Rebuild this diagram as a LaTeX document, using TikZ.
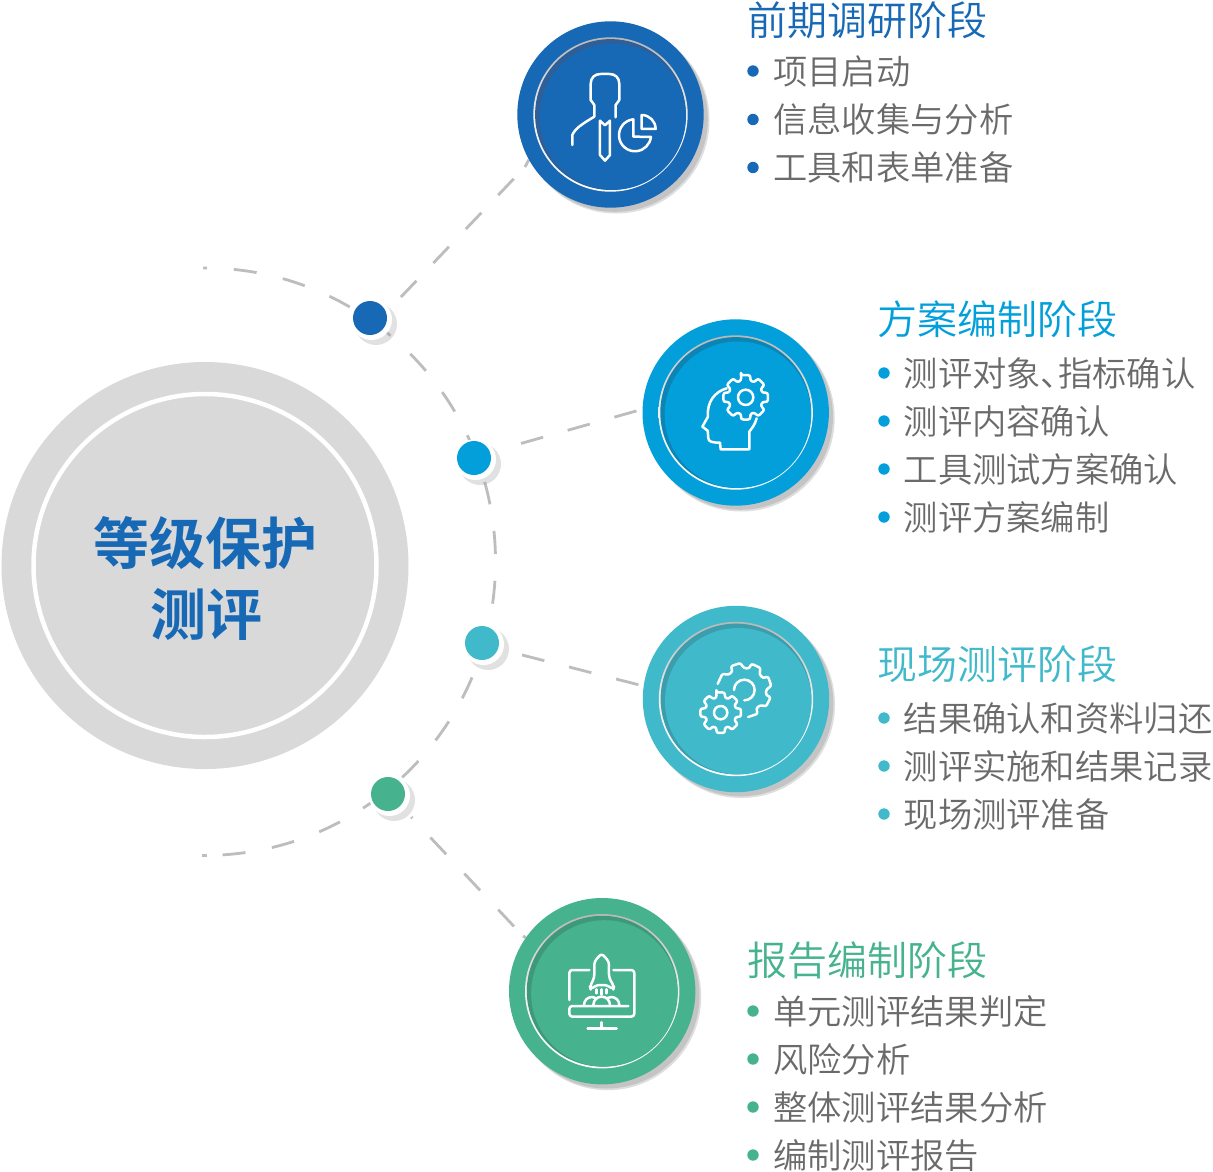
\documentclass[tikz,border=0pt]{standalone}
\usepackage{fontspec}
\newfontfamily\cjk{Noto Sans CJK SC DemiLight}
\newfontfamily\cjkbold{Noto Sans CJK SC Bold}
\pgfdeclarelayer{links}
\pgfsetlayers{links,main}
\definecolor{cblue}{HTML}{1769B5}
\definecolor{ccyan}{HTML}{039FDB}
\definecolor{cteal}{HTML}{40B9CB}
\definecolor{cgreen}{HTML}{46B38E}
\definecolor{dblue}{HTML}{2F5F96}
\definecolor{dcyan}{HTML}{0C85B5}
\definecolor{dteal}{HTML}{3C9EAC}
\definecolor{dgreen}{HTML}{3E997A}
\definecolor{txtgrey}{HTML}{6A6A6A}
\definecolor{dashgrey}{HTML}{BDBDBD}
\tikzset{
  dashline/.style={draw=dashgrey,line width=2.8pt},
  stagedisc/.style={circle,inner sep=0pt,minimum size=186.4pt,fill=#1},
  dotnode/.style={circle,inner sep=0pt,minimum size=34pt,fill=#1},
  headtext/.style={anchor=west,inner sep=0pt,text height=33pt,text depth=7pt,font=\cjk\fontsize{40}{40}\selectfont,text=#1},
  itemtext/.style={anchor=west,inner sep=0pt,text height=28.5pt,text depth=5.5pt,font=\cjk\fontsize{34.3}{34.3}\selectfont,text=txtgrey},
  bulletdot/.style={circle,inner sep=0pt,minimum size=11.4pt,fill=#1},
  iconline/.style={draw=white,line width=2.5pt,line cap=round,line join=round},
  titletext/.style={inner sep=0pt,text=cblue,font=\cjkbold\fontsize{56}{56}\selectfont}
}
\newcommand\stagecircle[5]{% name,x,y,colour,dark colour
  \begin{scope}[shift={(#2,#3)}]
    \fill[black!13] (5.5,5.5) circle[radius=93.5];
    \fill[black!23] (4.5,4.5) circle[radius=92.8];
  \end{scope}
  \node[stagedisc=#4] (#1) at (#2,#3) {};
  \begin{scope}[shift={(#2,#3)}]
    \shade[shading angle=45,top color=black!28,bottom color=white,middle color=black!6] (0,0) circle[radius=77.2];
    \fill[#5] (0,0) circle[radius=75.4];
    \fill[#4] (2.2,2.2) circle[radius=73.2];
  \end{scope}
}
\newcommand\pathdot[4]{% name,x,y,colour
  \begin{scope}[shift={(#2,#3)}]
    \fill[black!38,opacity=.3] (6,6) circle[radius=21];
    \fill[white] (1.5,1.5) circle[radius=20.5];
  \end{scope}
  \node[dotnode=#4] (#1) at (#2,#3) {};
}
\newcommand\stageitem[6]{% name,bullet x,text x,y,colour,text
  \node[bulletdot=#5] (#1b) at (#2,#4) {};
  \node[itemtext] (#1) at (#3,#4+1.5) {#6};
}
\newcommand\gearfull[3]{% outer,root,phase
  \draw[iconline,rounded corners=2.2pt] (#3-12:#1) \foreach \k in {0,45,...,315} {
     -- ({#3+\k-12}:#1) -- ({#3+\k+12}:#1) -- ({#3+\k+15}:#2) -- ({#3+\k+30}:#2)
  } -- cycle;
}
\begin{document}
\begin{tikzpicture}[x=1pt,y=-1pt]
\useasboundingbox (0,0) rectangle (1213,1171);
\begin{pgfonlayer}{links}
\fill[white] (0,0) rectangle (1213,1171);
\end{pgfonlayer}

% central circle
\node[circle,inner sep=0pt,minimum size=407pt,fill=black!15] (core) at (205,565.5) {};
\draw[white,line width=4.5pt] (core.center) circle[radius=171.5];
\node[titletext] (coreA) at (205.5,543) {等级保护};
\node[titletext] (coreB) at (206,614) {测评};

% waypoints
\pathdot{dotA}{370}{318}{cblue}
\pathdot{dotB}{474}{458}{ccyan}
\pathdot{dotC}{482}{643}{cteal}
\pathdot{dotD}{388}{794}{cgreen}

% stages
\stagecircle{stageA}{610.5}{114.5}{cblue}{dblue}
\stagecircle{stageB}{735.7}{412.5}{ccyan}{dcyan}
\stagecircle{stageC}{736}{699}{cteal}{dteal}
\stagecircle{stageD}{602.2}{991.2}{cgreen}{dgreen}

% connectors, under everything else
\coordinate (arctop) at (203,268);
\coordinate (arcend) at (207,855.5);
\coordinate (arcendb) at (202,855.5);
\coordinate (stubAa) at (525,167);
\coordinate (stubDa) at (523,936);
\begin{pgfonlayer}{links}
\draw[dashline,dash pattern=on 23pt off 26.9pt,dash phase=19pt] (arctop) arc[start angle=-90.4,end angle=88,x radius=290.5,y radius=293.7];
\draw[dashline] (arcend) -- (arcendb);
\draw[dashline,dash pattern=on 22.5pt off 24.5pt,dash phase=25.8pt] (dotA.19.5) -- (stubAa);
\draw[dashline] (stubAa) -- (stageA.209.3);
\draw[dashline,dash pattern=on 23pt off 25.5pt,dash phase=24.5pt,shorten <=8pt] (dotB.20) -- (stageB.178.8);
\draw[dashline,dash pattern=on 23pt off 25.5pt,dash phase=23.8pt] (dotC.-20.5) -- (stageC.172.6);
\draw[dashline,dash pattern=on 23pt off 26.5pt,dash phase=21.4pt,shorten <=15.5pt] (dotD.-43.8) -- (stubDa);
\draw[dashline] (stubDa) -- (stageD.145.4);
\end{pgfonlayer}

% icon 1
\begin{scope}[shift={(500,0)},x=0.3333pt,y=-0.3333pt]
  \draw[iconline] (217,435) -- (217,405) .. controls (225,385) and (250,370) .. (283,350) -- (283,315) -- (272,300) -- (272,252) .. controls (272,232) and (285,222) .. (302,222) -- (328,222) .. controls (345,222) and (358,232) .. (358,252) -- (358,300) -- (347,315) -- (347,352);
  \draw[iconline] (300,362) -- (300,465) -- (315,482) -- (330,465) -- (330,362) -- (315,376) -- cycle;
  \draw[iconline] (400,358) arc[start angle=-96,end angle=-354,radius=48] -- (400,410) -- cycle;
  \draw[iconline] (425,345) arc[start angle=-90,end angle=0,radius=42] -- (425,387) -- cycle;
\end{scope}
% icon 2
\begin{scope}[shift={(630,310)},x=0.3333pt,y=-0.3333pt]
  \begin{scope}[shift={(347,262)}]
    \gearfull{68}{52}{-90}
    \draw[iconline] (0,0) circle[radius=23];
  \end{scope}
  \draw[iconline] (290,235) .. controls (255,245) and (230,275) .. (234,320) -- (217,350) -- (233,362) -- (235,385) .. controls (236,395) and (245,398) .. (270,398) -- (272,418) -- (358,418) -- (358,365) .. controls (365,355) and (375,345) .. (380,325);
\end{scope}
% icon 3
\begin{scope}[shift={(630,595)},x=0.3333pt,y=-0.3333pt]
  \begin{scope}[shift={(272,353)}]
    \gearfull{62}{47}{-90}
    \draw[iconline] (0,0) circle[radius=20];
  \end{scope}
  \begin{scope}[shift={(343,285)}]
    \draw[iconline,rounded corners=2.2pt] (-167:82) -- (-143:82) -- (-137:66) -- (-122:66) -- (-120:82) -- (-98:82) -- (-92:66) -- (-77:66) -- (-75:82) -- (-53:82) -- (-47:66) -- (-32:66) -- (-30:82) -- (-8:82) -- (-2:66) -- (13:66) -- (15:82) -- (37:82) -- (43:66) -- (58:66) -- (60:82) -- (82:82);
    \draw[iconline] (-31,0) arc[start angle=180,end angle=450,radius=31];
  \end{scope}
\end{scope}
% icon 4
\begin{scope}[shift={(500,890)},x=0.3333pt,y=-0.3333pt]
  \draw[iconline,rounded corners=3pt] (268,240) -- (208,240) -- (208,330);
  \draw[iconline,rounded corners=3pt] (340,240) -- (403,240) -- (403,380) -- (208,380) -- (208,348) -- (385,348);
  \draw[iconline] (305,397) -- (305,415) (263,415) -- (350,415);
  \draw[iconline,rounded corners=3pt] (305,190) -- (283,215) -- (283,262) -- (270,290) -- (272,298) -- (290,285) -- (320,285) -- (340,298) -- (342,290) -- (327,262) -- (327,215) -- cycle;
  \draw[iconline] (290,298) -- (290,310) (305,298) -- (305,314) (320,298) -- (320,310);
  \draw[iconline] (252,345) arc[start angle=180,end angle=300,radius=24];
  \draw[iconline] (280,345) arc[start angle=180,end angle=360,radius=25];
  \draw[iconline] (358,345) arc[start angle=0,end angle=-120,radius=24];
\end{scope}

% texts
\node[headtext=cblue] (hA) at (747,22) {前期调研阶段};
\stageitem{iA1}{753}{773}{71}{cblue}{项目启动}
\stageitem{iA2}{753}{773}{119.5}{cblue}{信息收集与分析}
\stageitem{iA3}{753}{773}{167.5}{cblue}{工具和表单准备}

\node[headtext=ccyan] (hB) at (877.5,321) {方案编制阶段};
\stageitem{iB1}{884}{903.5}{373}{ccyan}{测评对象、\kern-17pt 指标确认}
\stageitem{iB2}{884}{903.5}{421}{ccyan}{测评内容确认}
\stageitem{iB3}{884}{903.5}{469}{ccyan}{工具测试方案确认}
\stageitem{iB4}{884}{903.5}{517}{ccyan}{测评方案编制}

\node[headtext=cteal] (hC) at (877.5,666) {现场测评阶段};
\stageitem{iC1}{884}{903.5}{718}{cteal}{结果确认和资料归还}
\stageitem{iC2}{884}{903.5}{766}{cteal}{测评实施和结果记录}
\stageitem{iC3}{884}{903.5}{814}{cteal}{现场测评准备}

\node[headtext=cgreen] (hD) at (747,962) {报告编制阶段};
\stageitem{iD1}{753}{773}{1011}{cgreen}{单元测评结果判定}
\stageitem{iD2}{753}{773}{1059}{cgreen}{风险分析}
\stageitem{iD3}{753}{773}{1107}{cgreen}{整体测评结果分析}
\stageitem{iD4}{753}{773}{1155}{cgreen}{编制测评报告}
\end{tikzpicture}
\end{document}
